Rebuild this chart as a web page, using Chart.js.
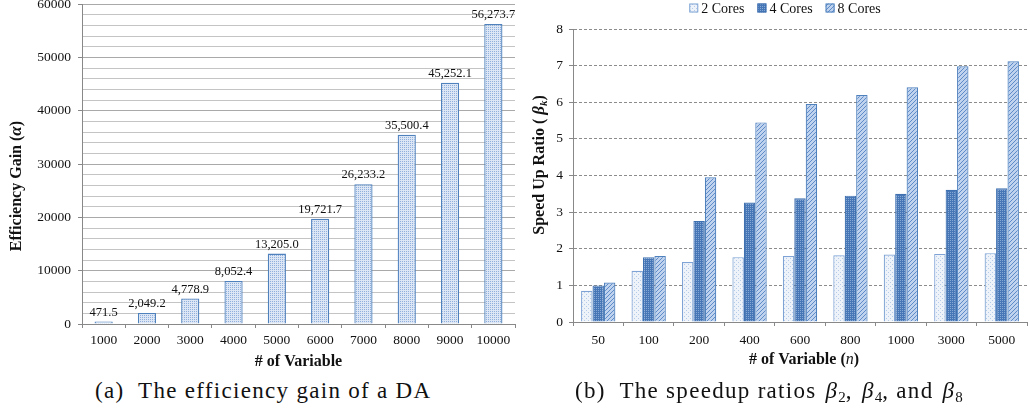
<!DOCTYPE html>
<html><head><meta charset="utf-8">
<script src="https://cdn.jsdelivr.net/npm/chart.js@4.4.1/dist/chart.umd.min.js"></script>
<style>
html,body{margin:0;padding:0;background:#fff;overflow:hidden;width:1030px;height:410px;}
#ca{position:absolute;left:0;top:-11px;}
#cb{position:absolute;left:520px;top:0;}
.cap{position:absolute;top:378px;font-family:"Liberation Serif","Times New Roman",Tinos,"DejaVu Serif",serif;font-size:23px;letter-spacing:1.3px;color:#111;white-space:nowrap;line-height:26px;}
.cap sub{font-size:15px;line-height:0;vertical-align:-4px;letter-spacing:0;}
.cap i{margin-left:2px;}
</style></head><body>
<canvas id="ca" width="525" height="379"></canvas>
<canvas id="cb" width="530" height="370"></canvas>
<div class="cap" id="capa" style="left:95px">(a)&nbsp; The efficiency gain of a DA</div>
<div class="cap" id="capb" style="left:575px">(b)&nbsp; The speedup ratios <i>β</i><sub>2</sub>, <i>β</i><sub>4</sub>, and <i>β</i><sub>8</sub></div>
<script>
// ---------- data ----------
const efficiencyCategories = ['1000','2000','3000','4000','5000','6000','7000','8000','9000','10000'];
const efficiencyGain = [471.5, 2049.2, 4778.9, 8052.4, 13205.0, 19721.7, 26233.2, 35500.4, 45252.1, 56273.7];
const efficiencyMax = 60000;
const efficiencyMinorStep = 2000;
const efficiencyLabelStep = 10000;

const speedupCategories = ['50','100','200','400','600','800','1000','3000','5000'];
const speedupSeriesNames = ['2 Cores','4 Cores','8 Cores'];
const speedup2Cores = [0.85, 1.40, 1.64, 1.77, 1.80, 1.82, 1.84, 1.86, 1.88];
const speedup4Cores = [1.00, 1.77, 2.76, 3.26, 3.38, 3.45, 3.50, 3.61, 3.65];
const speedup8Cores = [1.08, 1.80, 3.95, 5.45, 5.95, 6.20, 6.41, 6.98, 7.12];
const speedupMax = 8;

const SERIF = '"Liberation Serif", "Times New Roman", Tinos, "DejaVu Serif", serif';
const TICK = 13.5;

// ---------- patterns ----------
function makePattern(w, h, bg, fg, pixels) {
  const c = document.createElement('canvas');
  c.width = w; c.height = h;
  const x = c.getContext('2d');
  x.fillStyle = bg; x.fillRect(0, 0, w, h);
  x.fillStyle = fg;
  pixels.forEach(([px, py]) => x.fillRect(px, py, 1, 1));
  return x.createPattern(c, 'repeat');
}
const patA  = makePattern(2, 2, '#dce6f4', '#8fb0dc', [[0,0]]);
const pat2  = makePattern(4, 4, '#eef3fa', '#b6cbe7', [[0,0],[2,2]]);
const pat4  = makePattern(2, 2, '#4676b5', '#86a8d5', [[0,0]]);
const pat8  = makePattern(4, 4, '#bfd3ef', '#5f8bc9', [[3,0],[2,1],[1,2],[0,3]]);

function drawSegments(ctx, segs, cx, cy, rotate) {
  ctx.save();
  ctx.translate(cx, cy);
  if (rotate) ctx.rotate(-Math.PI / 2);
  let total = 0;
  segs.forEach(s => { ctx.font = s.font; s.w = ctx.measureText(s.text).width; total += s.w; });
  let x = -total / 2;
  ctx.textBaseline = 'middle';
  ctx.fillStyle = '#111';
  segs.forEach(s => { ctx.font = s.font; ctx.fillText(s.text, x, s.dy || 0); x += s.w; });
  ctx.restore();
}

const B16 = 'bold 16px ' + SERIF;
const BI16 = 'bold italic 17px ' + SERIF;
const BI11 = 'bold italic 11px ' + SERIF;

// ---------- left chart ----------
const leftPlugin = {
  id: 'leftDeco',
  afterDatasetsDraw(chart) {
    const ctx = chart.ctx;
    const meta = chart.getDatasetMeta(0);
    ctx.save();
    ctx.font = '12.5px ' + SERIF;
    ctx.fillStyle = '#111';
    ctx.textAlign = 'center';
    ctx.textBaseline = 'bottom';
    meta.data.forEach((bar, i) => {
      const v = chart.data.datasets[0].data[i];
      const txt = v.toLocaleString('en-US', {minimumFractionDigits: 1, maximumFractionDigits: 1});
      ctx.fillText(txt, bar.x, bar.y - 3);
    });
    ctx.restore();
    const a = chart.chartArea;
    drawSegments(ctx, [{text: 'Efficiency Gain (', font: B16}, {text: 'α', font: BI16}, {text: ')', font: B16}], 17, a.top + 182, true);
    drawSegments(ctx, [{text: '# of Variable', font: B16}], (a.left + a.right) / 2, a.bottom + 38, false);
  }
};

new Chart(document.getElementById('ca'), {
  type: 'bar',
  data: {
    labels: efficiencyCategories,
    datasets: [{
      data: efficiencyGain,
      backgroundColor: patA,
      borderColor: '#4f81bd',
      borderWidth: 1.3,
      barPercentage: 0.42,
      categoryPercentage: 1
    }]
  },
  options: {
    responsive: false,
    animation: false,
    layout: {padding: {top: 0, right: 10, left: 0, bottom: 0}},
    plugins: {legend: {display: false}, tooltip: {enabled: false}},
    scales: {
      x: {
        grid: {display: true, drawOnChartArea: false, offset: true, tickLength: 4, color: '#888'},
        border: {color: '#888', width: 1},
        ticks: {font: {family: SERIF, size: TICK}, color: '#111', padding: 4, maxRotation: 0, autoSkip: false},
        afterFit(s) { s.height = 44; }
      },
      y: {
        min: 0, max: efficiencyMax,
        ticks: {
          stepSize: efficiencyMinorStep, autoSkip: false,
          callback: v => (v % efficiencyLabelStep === 0 ? String(v) : ''),
          font: {family: SERIF, size: TICK}, color: '#111', padding: 7
        },
        grid: {
          color: c => (c.tick && c.tick.value % efficiencyLabelStep === 0 ? '#a9a9a9' : '#c4c4c4'),
          tickColor: c => (c.tick && c.tick.value % efficiencyLabelStep === 0 ? '#888' : 'rgba(0,0,0,0)'),
          tickLength: 4, lineWidth: 1
        },
        border: {color: '#888', width: 1},
        afterFit(s) { s.width = 82; }
      }
    }
  },
  plugins: [leftPlugin]
});

// ---------- right chart ----------
const rightPlugin = {
  id: 'rightDeco',
  afterDraw(chart) {
    const ctx = chart.ctx;
    const a = chart.chartArea;
    const items = chart.data.datasets.map(d => ({label: d.label, fill: d.backgroundColor, stroke: d.borderColor}));
    ctx.save();
    ctx.font = '14px ' + SERIF;
    const box = 9, gap = 3, spacing = 13;
    let total = 0;
    items.forEach(it => { it.w = box + gap + ctx.measureText(it.label).width; total += it.w; });
    total += spacing * (items.length - 1);
    let x = chart.width / 2 - total / 2;
    const cy = 8;
    ctx.textBaseline = 'middle';
    items.forEach(it => {
      ctx.fillStyle = it.fill;
      ctx.fillRect(x, cy - box / 2, box, box);
      ctx.strokeStyle = it.stroke; ctx.lineWidth = 1;
      ctx.strokeRect(x + 0.5, cy - box / 2 + 0.5, box - 1, box - 1);
      ctx.fillStyle = '#111';
      ctx.fillText(it.label, x + box + gap, cy + 1);
      x += it.w + spacing;
    });
    ctx.restore();
    drawSegments(ctx, [
      {text: 'Speed Up Ratio ( ', font: B16},
      {text: 'β', font: BI16},
      {text: 'k', font: BI11, dy: 4},
      {text: ')', font: B16}
    ], 20, a.top + 136, true);
    drawSegments(ctx, [
      {text: '# of Variable (', font: B16},
      {text: 'n', font: 'italic 16px ' + SERIF},
      {text: ')', font: B16}
    ], (a.left + a.right) / 2 + 4, a.bottom + 38, false);
  }
};

new Chart(document.getElementById('cb'), {
  type: 'bar',
  data: {
    labels: speedupCategories,
    datasets: [
      {label: speedupSeriesNames[0], data: speedup2Cores, backgroundColor: pat2, borderColor: '#7ea3d4', borderWidth: 1.2},
      {label: speedupSeriesNames[1], data: speedup4Cores, backgroundColor: pat4, borderColor: '#3f70b0', borderWidth: 1.2},
      {label: speedupSeriesNames[2], data: speedup8Cores, backgroundColor: pat8, borderColor: '#4f81bd', borderWidth: 1.2}
    ]
  },
  options: {
    responsive: false,
    animation: false,
    layout: {padding: {top: 29, right: 23, left: 0, bottom: 0}},
    datasets: {bar: {barPercentage: 1, categoryPercentage: 0.68}},
    plugins: {legend: {display: false}, tooltip: {enabled: false}},
    scales: {
      x: {
        grid: {display: true, drawOnChartArea: false, offset: true, tickLength: 4, color: '#888'},
        border: {color: '#888', width: 1},
        ticks: {font: {family: SERIF, size: TICK}, color: '#111', padding: 6, maxRotation: 0, autoSkip: false},
        afterFit(s) { s.height = 48; }
      },
      y: {
        min: 0, max: speedupMax,
        ticks: {stepSize: 1, font: {family: SERIF, size: TICK}, color: '#111', padding: 6},
        grid: {color: '#8c8c8c', tickColor: '#888', tickLength: 4, lineWidth: 1},
        border: {color: '#888', width: 1, dash: [3, 2]},
        afterFit(s) { s.width = 53; }
      }
    }
  },
  plugins: [rightPlugin]
});
</script>
</body></html>
